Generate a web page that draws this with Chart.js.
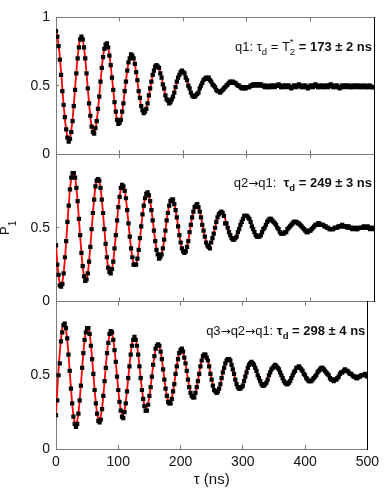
<!DOCTYPE html>
<html>
<head>
<meta charset="utf-8">
<script src="https://cdn.jsdelivr.net/npm/chart.js@4.4.0/dist/chart.umd.min.js"></script>
<style>
  body { margin: 0; background: #fff; }
  #wrap { position: relative; width: 388px; height: 490px; }
  #wrap canvas { position: absolute; left: 0; top: 0; }
</style>
</head>
<body>
<div id="wrap">
  <canvas id="p1" width="388" height="490"></canvas>
  <canvas id="p2" width="388" height="490"></canvas>
  <canvas id="p3" width="388" height="490"></canvas>
</div>
<script>
// Ramsey fringes, P1 vs delay tau (ns). data every 2 ns, fit curve sampled every 4 ns
const tauStep = 2;
const fitStep = 4;
const tauTicks = [0, 100, 200, 300, 400, 500];

const q1Data = [
  .90,.86,.79,.69,.58,.46,.36,.27,.18,.12,.09,
  .11,.16,.24,.35,.47,.59,.70,.78,.84,.86,
  .84,.78,.70,.59,.48,.37,.28,.20,.16,.15,
  .19,.24,.33,.42,.53,.63,.71,.77,.80,.81,
  .78,.72,.65,.56,.47,.38,.31,.25,.22,.23,
  .25,.31,.37,.46,.53,.61,.67,.70,.73,.72,
  .70,.66,.60,.54,.46,.41,.35,.32,.30,.31,
  .33,.37,.43,.48,.53,.58,.61,.64,.65,.64,
  .63,.59,.56,.51,.48,.43,.40,.39,.37,.38,
  .40,.42,.45,.49,.53,.56,.58,.60,.61,.60,
  .59,.56,.54,.50,.48,.45,.43,.42,.42,.43,
  .44,.45,.48,.50,.52,.54,.55,.56,.55,.56,
  .54,.53,.51,.50,.49,.47,.46,.46,.45,.46,
  .47,.48,.49,.50,.51,.52,.53,.52,.53,.52,
  .52,.51,.50,.50,.49,.48,.49,.48,.48,.49,
  .49,.49,.50,.50,.51,.50,.51,.51,.50,.51,
  .51,.50,.50,.49,.50,.49,.49,.50,.49,.50,
  .50,.49,.50,.50,.51,.50,.49,.49,.50,.50,
  .49,.50,.50,.49,.48,.49,.50,.50,.49,.50,
  .51,.50,.49,.49,.50,.50,.49,.48,.49,.50,
  .50,.49,.50,.51,.50,.49,.49,.50,.50,.49,
  .49,.50,.50,.49,.50,.51,.50,.49,.49,.50,
  .50,.49,.48,.49,.50,.50,.49,.50,.50,.49,
  .50,.49,.49,.50,.50,.49,.50,.50,.49,.49,
  .50,.50,.49,.49,.50,.49,.50,.49,.49,.49
];
const q1Fit = [
  .900,.800,.600,.360,.180,.100,.170,.360,.600,.790,.862,
  .779,.589,.371,.205,.156, .244,.425,.626,.769,.804,
  .722,.560,.381,.255,.227, .307,.454,.607,.710,.726,
  .657,.533,.405,.320,.308, .373,.477,.577,.639,.642,
  .595,.515,.434,.383,.379, .421,.490,.559,.601,.602,
  .564,.506,.452,.422,.425, .455,.498,.535,.556,.553,
  .531,.500,.473,.458,.460, .477,.500,.520,.529,.526,
  .515,.499,.487,.482,.484, .492,.501,.508,.511,.509,
  .505,.500,.496,.494,.495, .498,
  .500,.500,.500,.500,.500,.500,.500,.500,.500,.500,
  .500,.500,.500,.500,.500,.500,.500,.500,.500,.500,
  .500,.500,.500,.500,.500,.500,.500,.500,.500,.500,
  .500,.500,.500,.500,.500,.500,.500,.500,.500
];

const q21Data = [
  .38,.25,.18,.11,.10,.12,.19,.30,.41,.54,
  .65,.76,.84,.87,.87,.84,.77,.68,.56,.45,
  .33,.24,.17,.14,.15,.19,.27,.37,.49,.60,
  .69,.78,.82,.83,.82,.77,.69,.60,.49,.39,
  .30,.23,.20,.19,.22,.27,.36,.45,.55,.64,
  .71,.77,.79,.78,.75,.70,.62,.53,.44,.36,
  .30,.25,.25,.25,.29,.35,.43,.51,.59,.65,
  .70,.73,.74,.72,.68,.62,.55,.48,.41,.35,
  .32,.29,.30,.32,.36,.42,.48,.55,.60,.65,
  .68,.69,.69,.66,.62,.57,.51,.45,.40,.36,
  .34,.33,.34,.37,.41,.47,.52,.57,.61,.64,
  .65,.66,.64,.61,.57,.52,.48,.44,.40,.38,
  .37,.36,.40,.43,.46,.50,.54,.57,.59,.60,
  .61,.60,.58,.53,.53,.50,.47,.45,.43,.42,
  .42,.43,.44,.47,.49,.52,.54,.56,.58,.58,
  .58,.57,.56,.54,.51,.49,.47,.45,.44,.44,
  .44,.45,.47,.49,.50,.52,.54,.55,.56,.56,
  .55,.54,.53,.52,.50,.49,.47,.46,.46,.46,
  .47,.47,.49,.50,.51,.52,.53,.54,.54,.54,
  .53,.53,.52,.51,.50,.49,.48,.47,.47,.48,
  .48,.49,.50,.51,.52,.52,.53,.53,.52,.52,
  .52,.51,.51,.50,.50,.49,.49,.49,.49,.50,
  .50,.50,.51,.51,.51,.52,.51,.51,.51,.50,
  .51,.50,.50,.49,.50,.50,.49,.49,.50,.50,
  .50,.50,.51,.50,.50,.51,.50,.49,.50,.50,.49
];
const q21Fit = [
  .385,.176,.103,.194,.407,.653,.833,.877,.772,.562,
  .332,.175,.152,.274,.485,.694,.821,.817,.690,.492,
  .302,.198,.219,.356,.546,.710,.788,.751,.616,.442,
  .300,.244,.294,.427,.584,.700,.736,.678,.553,.413,
  .316,.297,.361,.481,.604,.680,.685,.618,.509,.401,
  .338,.344,.414,.518,.610,.652,.637,.570,.481,.407,
  .376,.399,.462,.535,.589,.605,.582,.530,.472,.430,
  .420,.444,.490,.541,.576,.582,.556,.511,.466,.438,
  .439,.467,.506,.540,.557,.553,.531,.500,.472,.459,
  .465,.487,.514,.535,.542,.534,.516,.495,.479,.474,
  .482,.498,.515,.526,.527,.519,.508,.497,.491,.491,
  .497,.504,.511,.514,.514,.510,.504,.499,.496,.496,
  .499,.503,.505,.505,.503,.501
];

const q321Data = [
  .23,.33,.50,.58,.73,.79,.84,.85,.82,.75,
  .64,.53,.41,.31,.22,.17,.15,.17,.24,.33,
  .43,.55,.65,.74,.79,.82,.82,.78,.70,.61,
  .51,.40,.31,.24,.19,.18,.20,.27,.36,.46,
  .55,.65,.72,.78,.80,.79,.74,.67,.59,.49,
  .40,.32,.26,.22,.21,.25,.31,.39,.48,.56,
  .64,.70,.74,.76,.74,.70,.64,.56,.48,.40,
  .34,.29,.26,.26,.30,.36,.42,.49,.57,.63,
  .68,.70,.71,.70,.66,.61,.54,.47,.41,.36,
  .32,.31,.31,.34,.39,.44,.51,.56,.61,.65,
  .67,.68,.66,.62,.58,.53,.47,.42,.38,.36,
  .35,.35,.38,.42,.46,.51,.56,.60,.63,.64,
  .64,.62,.60,.56,.51,.47,.43,.40,.39,.38,
  .39,.41,.44,.48,.52,.55,.58,.60,.61,.61,
  .60,.57,.54,.51,.47,.44,.42,.41,.41,.42,
  .43,.46,.49,.52,.55,.57,.58,.59,.58,.57,
  .55,.53,.50,.48,.46,.44,.43,.43,.44,.45,
  .47,.50,.52,.54,.55,.56,.57,.56,.55,.54,
  .52,.50,.48,.46,.45,.44,.44,.45,.46,.48,
  .50,.52,.53,.55,.55,.56,.55,.54,.53,.51,
  .50,.48,.47,.46,.46,.46,.47,.48,.49,.50,
  .52,.53,.54,.55,.55,.54,.53,.52,.51,.50,
  .48,.47,.47,.46,.47,.47,.48,.49,.51,.52,
  .52,.53,.54,.53,.53,.52,.51,.51,.50,.49,
  .49,.48,.48,.49,.49,.50,.50,.50,.51,.50,.49
];
const q321Fit = [
  .240,.530,.741,.850,.811,.641,.414,.228,.162,.245,
  .435,.651,.800,.820,.706,.510,.315,.204,.223,.362,
  .558,.726,.796,.741,.588,.403,.267,.235,.319,.479,
  .643,.745,.741,.639,.483,.344,.276,.308,.422,.566,
  .678,.713,.659,.542,.415,.330,.322,.392,.506,.615,
  .673,.658,.579,.473,.385,.350,.383,.465,.560,.626,
  .640,.596,.515,.434,.386,.390,.442,.518,.585,.613,
  .596,.541,.475,.425,.410,.436,.490,.548,.585,.587,
  .554,.503,.456,.432,.440,.475,.520,.556,.569,.555,
  .520,.480,.452,.447,.467,.502,.536,.555,.552,.530,
  .498,.471,.459,.467,.490,.519,.542,.548,.535,.511,
  .485,.469,.469,.484,.507,.526,.534,.530,.516,.499,
  .488,.485,.491,.501,.511,.517
];

const plotLeft = 56;
const plotRight = 374;
const axisGrey = '#7a7a7a';
const mainFont = '"Liberation Sans", Arial, Helvetica, sans-serif';
const arrowFont = '"DejaVu Sans", sans-serif';
Chart.defaults.font.family = mainFont;

const toPoints = (vals, step) => vals.map((v, i) => ({x: i * step, y: v}));

function fontFor(s) {
  const size = (s.sub || s.sup) ? 9.5 : (s.arrow ? 12 : 13);
  return (s.bold ? 'bold ' : '') + size + 'px ' + (s.arrow ? arrowFont : mainFont);
}

// right aligned label with sub/superscripts
function drawRich(ctx, segs, right, base) {
  let x = 0;
  const placed = [];
  segs.forEach(s => {
    ctx.font = fontFor(s);
    const w = ctx.measureText(s.t).width;
    const start = s.over ? placed[placed.length - 1].x : x;
    placed.push({s: s, x: start});
    x = Math.max(x, start + w);
  });
  const shift = right - x;
  placed.forEach(p => {
    ctx.font = fontFor(p.s);
    const dy = p.s.sub ? 4 : (p.s.sup ? -6 : 0);
    ctx.fillText(p.s.t, shift + p.x, base + dy);
  });
}

const textPlugin = {
  id: 'panelText',
  afterDraw(chart, args, opts) {
    const ctx = chart.ctx;
    const area = chart.chartArea;
    ctx.save();
    ctx.fillStyle = '#111';
    ctx.textAlign = 'left';
    ctx.textBaseline = 'alphabetic';
    if (opts.segs) drawRich(ctx, opts.segs, area.right - 2, area.top + opts.dy);
    if (opts.yTitle) {
      ctx.translate(10, (area.top + area.bottom) / 2 + 3);
      ctx.rotate(-Math.PI / 2);
      ctx.font = '13px ' + mainFont;
      ctx.textAlign = 'center';
      ctx.fillText('P', 0, -1);
      ctx.font = '10px ' + mainFont;
      ctx.textAlign = 'left';
      ctx.fillText('1', 4.5, 6);
    }
    ctx.restore();
  }
};

function makePanel(id, top, bottom, dataVals, fitVals, opts) {
  const xH = opts.showX ? 41 : 0;
  return new Chart(id, {
    type: 'scatter',
    data: {
      datasets: [
        {
          data: toPoints(dataVals, tauStep),
          pointStyle: 'rect',
          pointRadius: 3,
          backgroundColor: '#000',
          borderWidth: 0,
          order: 0
        },
        {
          type: 'line',
          data: toPoints(fitVals, fitStep),
          borderColor: '#ff0000',
          borderWidth: 1.8,
          pointRadius: 0,
          tension: 0.4,
          fill: false,
          order: 1
        }
      ]
    },
    options: {
      responsive: false,
      animation: false,
      devicePixelRatio: 1,
      layout: {padding: {top: top, bottom: 490 - bottom - xH, left: 0, right: 0}},
      plugins: {
        legend: {display: false},
        tooltip: {enabled: false},
        panelText: {segs: opts.segs, dy: opts.dy, yTitle: opts.yTitle}
      },
      scales: {
        x: {
          type: 'linear', position: 'bottom', min: 0, max: 500,
          afterBuildTicks: s => { s.ticks = tauTicks.map(v => ({value: v})); },
          ticks: {display: opts.showX, padding: 9, color: '#111', font: {size: 14}},
          grid: {drawOnChartArea: false, tickLength: -4, color: axisGrey},
          border: {color: axisGrey},
          title: {display: opts.showX, text: 'τ (ns)', color: '#111', font: {size: 15}, padding: {top: 0, bottom: 1}},
          afterFit: s => { s.height = xH; }
        },
        xTop: {
          type: 'linear', position: 'top', min: 0, max: 500,
          afterBuildTicks: s => { s.ticks = tauTicks.map(v => ({value: v})); },
          ticks: {display: false},
          grid: {drawOnChartArea: false, tickLength: -4, color: axisGrey},
          border: {color: axisGrey},
          afterFit: s => { s.height = 0; }
        },
        y: {
          min: 0, max: 1,
          ticks: {
            stepSize: 0.5, padding: 9, color: '#111', font: {size: 14},
            callback: v => (v === 1 && !opts.showOne ? '' : String(v))
          },
          grid: {drawOnChartArea: false, tickLength: -3, color: axisGrey},
          border: {color: axisGrey},
          afterFit: s => { s.width = plotLeft; }
        },
        yRight: {
          position: 'right', min: 0, max: 1,
          ticks: {display: false},
          grid: {display: false},
          border: {color: '#000'},
          afterFit: s => { s.width = 388 - plotRight; }
        }
      }
    },
    plugins: [textPlugin]
  });
}

makePanel('p1', 7, 154, q1Data, q1Fit, {
  showOne: true, showX: false, dy: 34,
  segs: [
    {t: 'q1: τ'}, {t: 'd', sub: true}, {t: ' = T'}, {t: '2', sub: true}, {t: '*', sup: true, over: true},
    {t: ' = 173 ± 2 ns', bold: true}
  ]
});
makePanel('p2', 154, 301.5, q21Data, q21Fit, {
  showOne: false, showX: false, dy: 33, yTitle: true,
  segs: [
    {t: 'q2'}, {t: '→', arrow: true}, {t: 'q1:  '}, {t: 'τ', bold: true}, {t: 'd', sub: true, bold: true},
    {t: ' = 249 ± 3 ns', bold: true}
  ]
});
makePanel('p3', 301.5, 449, q321Data, q321Fit, {
  showOne: false, showX: true, dy: 33.5,
  segs: [
    {t: 'q3'}, {t: '→', arrow: true}, {t: 'q2'}, {t: '→', arrow: true}, {t: 'q1: '},
    {t: 'τ', bold: true}, {t: 'd', sub: true, bold: true}, {t: ' = 298 ± 4 ns', bold: true}
  ]
});
</script>
</body>
</html>
